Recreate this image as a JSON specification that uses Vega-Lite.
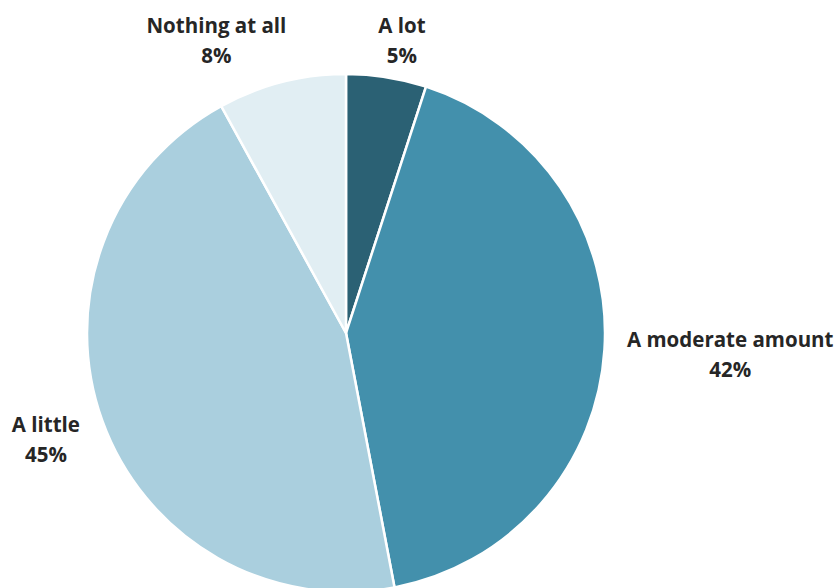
{
  "$schema": "https://vega.github.io/schema/vega-lite/v6.json",
  "width": 692,
  "height": 666,
  "autosize": {"type": "none"},
  "padding": {"left": 0, "top": 0, "right": 144, "bottom": 0},
  "background": "white",
  "view": {"stroke": null},
  "data": {
    "values": [
      {"cat": "A lot", "value": 5, "idx": 1},
      {"cat": "A moderate amount", "value": 42, "idx": 2},
      {"cat": "A little", "value": 45, "idx": 3},
      {"cat": "Nothing at all", "value": 8, "idx": 4}
    ]
  },
  "transform": [{"calculate": "datum.cat + '\\n' + datum.value + '%'", "as": "label"}],
  "layer": [
    {
      "mark": {"type": "arc", "radius": 259, "stroke": "white", "strokeWidth": 2.5},
      "encoding": {
        "theta": {"field": "value", "type": "quantitative", "stack": true},
        "order": {"field": "idx", "type": "quantitative"},
        "color": {
          "field": "cat", "type": "nominal", "legend": null,
          "scale": {
            "domain": ["A lot", "A moderate amount", "A little", "Nothing at all"],
            "range": ["#2b6174", "#4390ac", "#aacfde", "#e1eef3"]
          }
        }
      }
    },
    {
      "mark": {"type": "text", "radius": 300, "dx": 9, "dy": -10, "font": "Open Sans", "fontWeight": "bold", "fontSize": 20.5, "lineHeight": 30, "lineBreak": "\n", "color": "#262626", "align": "center", "baseline": "middle"},
      "encoding": {
        "theta": {"field": "value", "type": "quantitative", "stack": true},
        "order": {"field": "idx", "type": "quantitative"},
        "detail": {"field": "cat", "type": "nominal"},
        "text": {"condition": {"test": "datum.cat === 'A lot'", "field": "label"}, "value": ""}
      }
    },
    {
      "mark": {"type": "text", "radius": 385, "dx": 0, "dy": -16, "font": "Open Sans", "fontWeight": "bold", "fontSize": 20.5, "lineHeight": 30, "lineBreak": "\n", "color": "#262626", "align": "center", "baseline": "middle"},
      "encoding": {
        "theta": {"field": "value", "type": "quantitative", "stack": true},
        "order": {"field": "idx", "type": "quantitative"},
        "detail": {"field": "cat", "type": "nominal"},
        "text": {"condition": {"test": "datum.cat === 'A moderate amount'", "field": "label"}, "value": ""}
      }
    },
    {
      "mark": {"type": "text", "radius": 320, "dx": 1, "dy": -15, "font": "Open Sans", "fontWeight": "bold", "fontSize": 20.5, "lineHeight": 30, "lineBreak": "\n", "color": "#262626", "align": "center", "baseline": "middle"},
      "encoding": {
        "theta": {"field": "value", "type": "quantitative", "stack": true},
        "order": {"field": "idx", "type": "quantitative"},
        "detail": {"field": "cat", "type": "nominal"},
        "text": {"condition": {"test": "datum.cat === 'A little'", "field": "label"}, "value": ""}
      }
    },
    {
      "mark": {"type": "text", "radius": 300, "dx": -55, "dy": -15, "font": "Open Sans", "fontWeight": "bold", "fontSize": 20.5, "lineHeight": 30, "lineBreak": "\n", "color": "#262626", "align": "center", "baseline": "middle"},
      "encoding": {
        "theta": {"field": "value", "type": "quantitative", "stack": true},
        "order": {"field": "idx", "type": "quantitative"},
        "detail": {"field": "cat", "type": "nominal"},
        "text": {"condition": {"test": "datum.cat === 'Nothing at all'", "field": "label"}, "value": ""}
      }
    }
  ]
}
